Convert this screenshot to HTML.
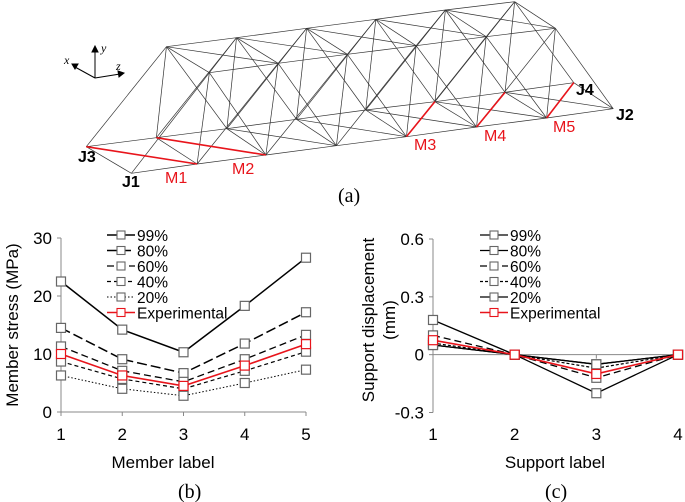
<!DOCTYPE html>
<html><head><meta charset="utf-8"><style>
body{margin:0;background:#fff}
svg{display:block;font-family:"Liberation Sans",sans-serif}
</style></head><body>
<svg id="s" width="685" height="502" viewBox="0 0 685 502">
<g id="truss"></g>
<g stroke="#000" stroke-width="1" fill="none">
<line x1="95" y1="78" x2="95" y2="50"/><polygon points="92,52 98,52 95,46" fill="#000"/>
<line x1="95" y1="78" x2="120" y2="74"/><polygon points="118,71 119,77 124,73" fill="#000"/>
<line x1="95" y1="78" x2="75" y2="67"/><polygon points="78,64 75,69 72,64" fill="#000"/>
</g>
<text x="101" y="52" font-family="Liberation Serif" font-style="italic" font-size="12">y</text>
<text x="116" y="70" font-family="Liberation Serif" font-style="italic" font-size="12">z</text>
<text x="64" y="64" font-family="Liberation Serif" font-style="italic" font-size="12">x</text>
<g font-size="16" font-weight="bold">
<text x="78" y="162">J3</text><text x="122" y="187">J1</text><text x="576" y="95">J4</text><text x="616" y="120">J2</text>
</g>
<g font-size="16" fill="#e8141b">
<text x="165" y="183">M1</text><text x="232" y="174">M2</text><text x="414" y="150">M3</text><text x="484" y="141">M4</text><text x="553" y="132">M5</text>
</g>
<text x="338" y="202" font-family="Liberation Serif" font-size="20">(a)</text>
<g id="chartB"></g>
<g id="chartC"></g>
<text x="178" y="498" font-family="Liberation Serif" font-size="20">(b)</text>
<text x="545" y="498" font-family="Liberation Serif" font-size="20">(c)</text>
</svg>
<script>
const NS="http://www.w3.org/2000/svg";
function mk(p,t,a){const e=document.createElementNS(NS,t);for(const k in a)e.setAttribute(k,a[k]);p.appendChild(e);return e;}
// ---------- truss ----------
const T=document.getElementById('truss');
const F=[[300,520],[450,492],[607,465],[768,437],[928,410],[1088,381],[1248,354],[1400,326]];
const K=[[197,440],[357,413],[518,386],[677,358],[835,330],[993,305],[1153,277],[1310,248]];
const A=[[380,140],[540,113],[700,85],[858,58],[1017,30],[1175,5]];
const B=[[478,218],[635,190],[793,163],[950,137],[1110,110],[1268,85]];
function P(p){return [p[0]*0.438,p[1]/3];}
function L(a,b,c,w){const p=P(a),q=P(b);const e=mk(T,'line',{x1:p[0],y1:p[1],x2:q[0],y2:q[1],stroke:c||'#333','stroke-width':w||0.7});

}
for(let i=0;i<7;i++){L(F[i],F[i+1]);L(K[i],K[i+1]);L(F[i+1],K[i]);}
for(let i=0;i<8;i++)L(F[i],K[i]);
for(let i=0;i<5;i++){L(A[i],A[i+1]);L(B[i],B[i+1]);L(A[i],B[i+1]);L(A[i+1],B[i]);}
for(let i=0;i<6;i++){L(A[i],B[i]);L(A[i],K[i+1]);L(B[i],F[i+1]);}
for(let i=0;i<5;i++){L(A[i],K[i+2]);L(A[i+1],K[i+1]);L(B[i],F[i+2]);L(B[i+1],F[i+1]);}
L(A[0],K[0]);L(B[0],F[0]);L(A[5],K[7]);L(B[5],F[7]);
const red=[[K[0],F[1]],[K[1],F[2]],[F[4],K[5]],[F[5],K[6]],[F[6],K[7]]];
red.forEach(r=>L(r[0],r[1],'#e8141b',1.6));

// ---------- chart data ----------
const membersB=[1,2,3,4,5];
const b99=[22.5,14.2,10.3,18.3,26.6];
const b80=[14.5,9.1,6.7,11.8,17.2];
const b60=[11.3,7.1,5.2,9.1,13.3];
const b40=[8.7,5.7,4.0,7.1,10.4];
const b20=[6.3,4.0,2.8,5.0,7.3];
const bExp=[10.0,6.3,4.5,8.0,11.7];
const bTicks=[0,10,20,30];
const supportsC=[1,2,3,4];
const c99=[0.18,0,-0.20,0];
const c80=[0.05,0,-0.05,0];
const c60=[0.10,0,-0.12,0];
const c40=[0.06,0,-0.07,0];
const c20=[0.05,0,-0.05,0];
const cExp=[0.075,0,-0.10,0];
const cTicks=[-0.3,0,0.3,0.6];
const labels=['99%','80%','60%','40%','20%','Experimental'];
const styles=[{c:'#000',d:'',w:1.5},{c:'#000',d:'10,4',w:1.5},{c:'#000',d:'7,4',w:1.3},{c:'#000',d:'4,3',w:1.2},{c:'#000',d:'1.5,2',w:1},{c:'#e8141b',d:'',w:1.6}];
const stylesC=[{c:'#000',d:'',w:1.3},{c:'#000',d:'',w:1.3},{c:'#000',d:'7,4',w:1.3},{c:'#000',d:'3,2',w:1.2},{c:'#000',d:'',w:1.3},{c:'#e8141b',d:'',w:1.6}];

function chart(g,cfg){
  const G=document.getElementById(g);
  const xs=v=>cfg.x0+(v-cfg.cats[0])*(cfg.x1-cfg.x0)/(cfg.cats[cfg.cats.length-1]-cfg.cats[0]);
  const ys=v=>cfg.y0+(v-cfg.ymin)*(cfg.y1-cfg.y0)/(cfg.ymax-cfg.ymin);
  let e=mk(G,'line',{x1:cfg.x0,y1:ys(cfg.ymin),x2:cfg.x0,y2:ys(cfg.ymax),stroke:'#888'});
  
  e=mk(G,'line',{x1:cfg.x0,y1:ys(cfg.xAxisAt),x2:cfg.x1,y2:ys(cfg.xAxisAt),stroke:'#888'});
  
  cfg.ticks.forEach(t=>{
    mk(G,'line',{x1:cfg.x0-4,y1:ys(t),x2:cfg.x0,y2:ys(t),stroke:'#888'});
    const tx=mk(G,'text',{x:cfg.x0-9,y:ys(t)+6,'text-anchor':'end','font-size':17});tx.textContent=cfg.fmt(t);
    
  });
  cfg.cats.forEach(c=>{
    mk(G,'line',{x1:xs(c),y1:ys(cfg.xAxisAt),x2:xs(c),y2:ys(cfg.xAxisAt)+4,stroke:'#888'});
    const tx=mk(G,'text',{x:xs(c),y:cfg.xlabY,'text-anchor':'middle','font-size':17});tx.textContent=c;
    
  });
  cfg.series.forEach((s,i)=>{
    const st=cfg.styles[i];
    const pl=mk(G,'polyline',{points:s.map((v,j)=>xs(cfg.cats[j])+','+ys(v)).join(' '),fill:'none',stroke:st.c,'stroke-width':st.w,'stroke-dasharray':st.d});
    
    
    s.forEach((v,j)=>{
      const m=mk(G,'rect',{x:xs(cfg.cats[j])-4.5,y:ys(v)-4.5,width:9,height:9,fill:'#fff',stroke:i==5?'#e8141b':'#666','stroke-width':1.2});
      
      
    });
    const ly=cfg.legY+i*15.5;
    const ll=mk(G,'line',{x1:cfg.legX,y1:ly,x2:cfg.legX+28,y2:ly,stroke:st.c,'stroke-width':st.w,'stroke-dasharray':st.d});
    
    const lm=mk(G,'rect',{x:cfg.legX+10,y:ly-4,width:8,height:8,fill:'#fff',stroke:i==5?'#e8141b':'#666','stroke-width':1.1});
    
    const lt=mk(G,'text',{x:cfg.legX+30,y:ly+6,'font-size':15.5});lt.textContent=labels[i];
    
  });
}
chart('chartB',{cats:membersB,x0:61,x1:306,y0:412,y1:238,ymin:0,ymax:30,xAxisAt:0,ticks:bTicks,fmt:t=>t,xlabY:440,
  series:[b99,b80,b60,b40,b20,bExp],styles:styles,legX:107,legY:235});
chart('chartC',{cats:supportsC,x0:433,x1:678,y0:412.5,y1:239,ymin:-0.3,ymax:0.6,xAxisAt:0,ticks:cTicks,fmt:t=>t==0?'0':t.toFixed(1),xlabY:440,
  series:[c99,c80,c60,c40,c20,cExp],styles:stylesC,legX:480,legY:235});
const S=document.getElementById('s');
function txt(x,y,s,rot,name){const t=mk(S,'text',{x:x,y:y,'text-anchor':'middle','font-size':17,transform:rot?`rotate(-90 ${x} ${y})`:''});t.textContent=s;
}
txt(18,325,'Member stress (MPa)',true,'y-axis-title-b');
txt(163,468,'Member label',false,'x-axis-title-b');
txt(374,320,'Support displacement',true,'y-axis-title-c');
txt(395,320,'(mm)',true,'y-axis-title-c-unit');
txt(555,468,'Support label',false,'x-axis-title-c');
</script>
</body></html>
